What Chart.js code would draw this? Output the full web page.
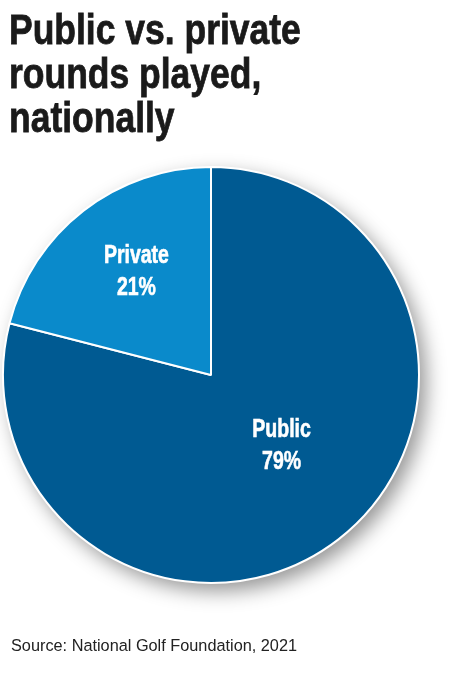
<!DOCTYPE html>
<html>
<head>
<meta charset="utf-8">
<script src="https://cdn.jsdelivr.net/npm/chart.js@4/dist/chart.umd.min.js"></script>
<style>
  html, body { margin: 0; padding: 0; background: #ffffff; }
  #wrap { position: relative; width: 450px; height: 674px; overflow: hidden; }
  #title {
    position: absolute; left: 9px; top: 7px; margin: 0;
    font-family: "Liberation Sans", Arial, sans-serif;
    font-weight: bold; font-size: 43px; line-height: 44px;
    color: #1a1a1a; white-space: nowrap;
    transform: scaleX(0.825); transform-origin: 0 0;
    -webkit-text-stroke: 0.8px #1a1a1a;
  }
  #source {
    position: absolute; left: 11px; top: 634.5px; margin: 0;
    font-family: "Liberation Sans", Arial, sans-serif; font-size: 16.3px; line-height: 20px; color: #222;
  }
  canvas { position: absolute; left: 0; top: 0; }
</style>
</head>
<body>
<div id="wrap">
  <canvas id="c" width="450" height="674"></canvas>
  <h1 id="title">Public vs. private<br>rounds played,<br>nationally</h1>
  <p id="source">Source: National Golf Foundation, 2021</p>
</div>
<script>
const categories = ["Public", "Private"];
const shares = [79, 21];
const sliceColors = ["#005a92", "#0a8acb"];
// label placement: angle (deg, canvas coords) and distance as fraction of radius
const labelAngles = [43.8, -125.0];
const labelDist = [0.47, 0.625];

const shadowPlugin = {
  id: 'pieShadow',
  beforeDatasetsDraw(chart) {
    const arc = chart.getDatasetMeta(0).data[0];
    if (!arc) return;
    const ctx = chart.ctx;
    ctx.save();
    ctx.shadowColor = 'rgba(0,0,0,0.42)';
    ctx.shadowBlur = 20;
    ctx.shadowOffsetX = 7;
    ctx.shadowOffsetY = 8;
    ctx.fillStyle = '#ffffff';
    ctx.beginPath();
    ctx.arc(arc.x, arc.y, arc.outerRadius, 0, Math.PI * 2);
    ctx.fill();
    ctx.restore();
  }
};

const labelPlugin = {
  id: 'sliceLabels',
  afterDatasetsDraw(chart) {
    const meta = chart.getDatasetMeta(0);
    const ctx = chart.ctx;
    meta.data.forEach((arc, i) => {
      const a = labelAngles[i] * Math.PI / 180;
      const r = arc.outerRadius * labelDist[i];
      const cx = arc.x + Math.cos(a) * r;
      const cy = arc.y + Math.sin(a) * r;
      ctx.save();
      ctx.translate(cx, cy);
      ctx.scale(0.78, 1);
      ctx.fillStyle = '#ffffff';
      ctx.strokeStyle = '#ffffff';
      ctx.lineWidth = 0.6;
      ctx.textAlign = 'center';
      ctx.textBaseline = 'alphabetic';
      ctx.font = 'bold 25px "Liberation Sans", Arial, sans-serif';
      ctx.fillText(categories[i], 0, -6);
      ctx.strokeText(categories[i], 0, -6);
      ctx.fillText(shares[i] + '%', 0, 26);
      ctx.strokeText(shares[i] + '%', 0, 26);
      ctx.restore();
    });
  }
};

new Chart(document.getElementById('c'), {
  type: 'pie',
  data: {
    labels: categories,
    datasets: [{
      data: shares,
      backgroundColor: sliceColors,
      borderColor: '#ffffff',
      borderWidth: 2,
      hoverOffset: 0,
      offset: 0
    }]
  },
  options: {
    responsive: false,
    animation: false,
    rotation: 0,
    layout: { padding: { left: 2, right: 30, top: 166, bottom: 90 } },
    plugins: {
      legend: { display: false },
      tooltip: { enabled: false },
      title: { display: false }
    },
    events: []
  },
  plugins: [shadowPlugin, labelPlugin]
});
</script>
</body>
</html>
